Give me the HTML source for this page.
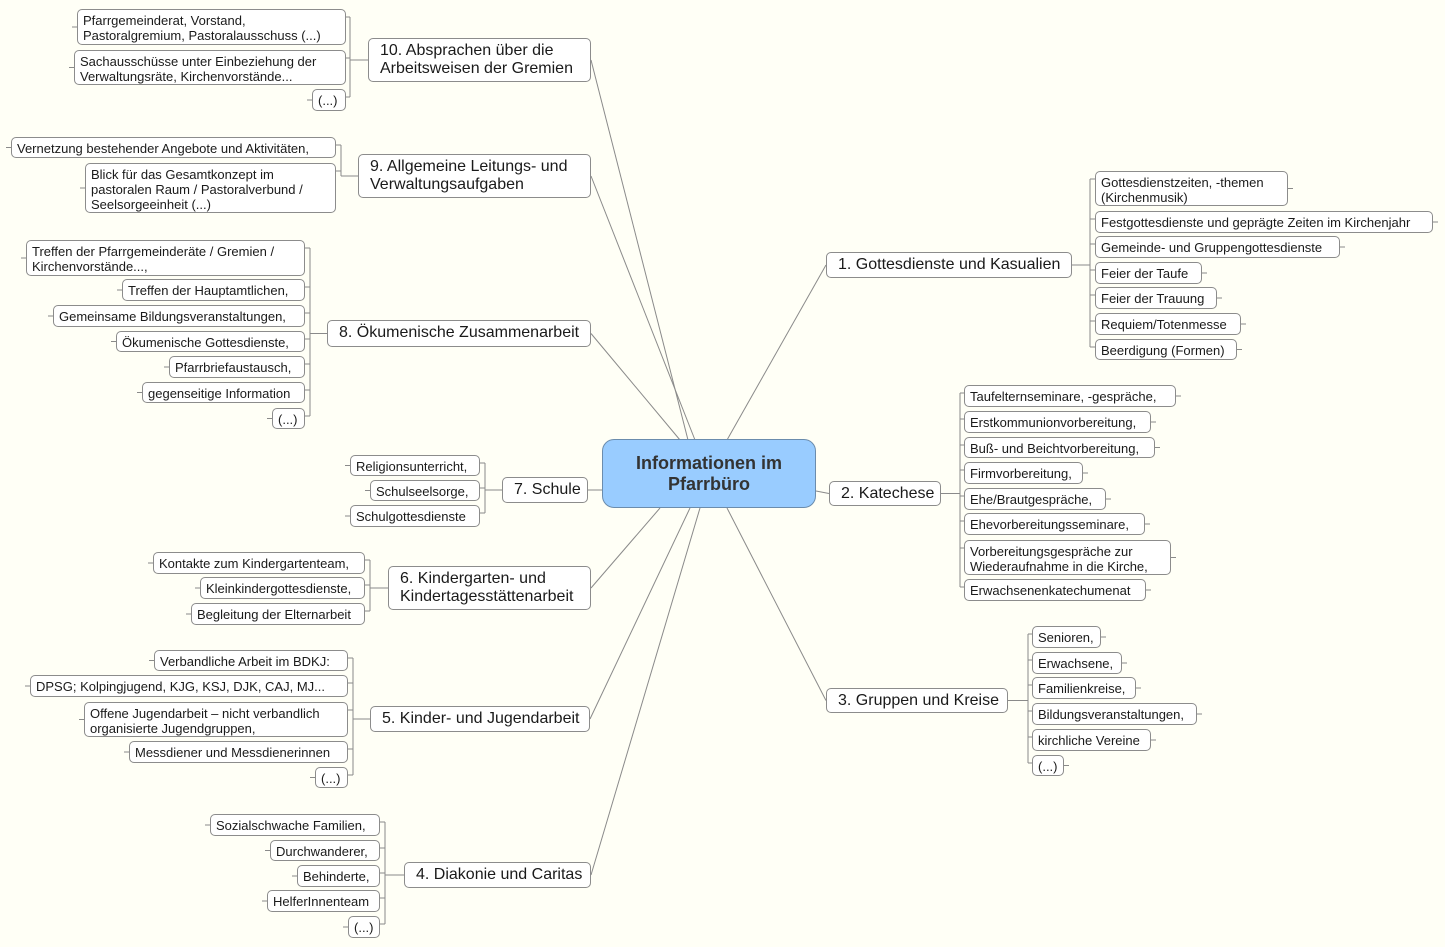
<!DOCTYPE html>
<html><head><meta charset="utf-8"><style>
html,body{margin:0;padding:0}
body{width:1445px;height:947px;background:#fffff6;position:relative;overflow:hidden;font-family:"Liberation Sans",sans-serif;color:#1a1a1a}
.b{position:absolute;box-sizing:border-box;background:#fff;border:1px solid #8c8c8c;border-radius:5px;white-space:nowrap;line-height:15px}
.c{font-size:13px;padding:3px 5px 0 5px}
.m{font-size:16px;line-height:18px;padding:3px 0 0 11px}
#ctr{position:absolute;left:602px;top:439px;width:214px;height:69px;box-sizing:border-box;background:#99ccff;border:1px solid #6b8cad;border-radius:12px;font-weight:bold;font-size:18px;line-height:21px;text-align:center;padding-top:13px;color:#333}
svg{position:absolute;left:0;top:0}
</style></head><body>
<svg id="s" width="1445" height="947"></svg>
<div id="ctr">Informationen im<br>Pfarrbüro</div>
<script>
var S=document.getElementById('s'),ns='http://www.w3.org/2000/svg';
function ln(x1,y1,x2,y2){var l=document.createElementNS(ns,'line');l.setAttribute('x1',x1);l.setAttribute('y1',y1);l.setAttribute('x2',x2);l.setAttribute('y2',y2);l.setAttribute('stroke','#8a8a8a');l.setAttribute('stroke-width','1');S.appendChild(l);}
function box(cls,x1,y1,x2,y2,t){var d=document.createElement('div');d.className='b '+cls;d.style.left=x1+'px';d.style.top=y1+'px';d.style.width=(x2-x1)+'px';d.style.height=(y2-y1)+'px';d.innerHTML=t;document.body.appendChild(d);}
// branches: [x1,y1,x2,y2,text,side,bracketX, children[[x1,y1,x2,y2,text]], centerAnchor]
var B=[
[826,252,1072,278,'1. Gottesdienste und Kasualien','R',1090,[[1095,171,1288,206,'Gottesdienstzeiten, -themen<br>(Kirchenmusik)'],[1095,211,1433,233,'Festgottesdienste und geprägte Zeiten im Kirchenjahr'],[1095,236,1340,258,'Gemeinde- und Gruppengottesdienste'],[1095,262,1202,284,'Feier der Taufe'],[1095,287,1217,309,'Feier der Trauung'],[1095,313,1241,335,'Requiem/Totenmesse'],[1095,339,1237,360,'Beerdigung (Formen)']],[727,440]],
[829,481,941,506,'2. Katechese','R',960,[[964,385,1176,407,'Taufelternseminare, -gespräche,'],[964,411,1151,433,'Erstkommunionvorbereitung,'],[964,437,1155,458,'Buß- und Beichtvorbereitung,'],[964,462,1083,484,'Firmvorbereitung,'],[964,488,1106,510,'Ehe/Brautgespräche,'],[964,513,1145,535,'Ehevorbereitungsseminare,'],[964,540,1171,575,'Vorbereitungsgespräche zur<br>Wiederaufnahme in die Kirche,'],[964,579,1146,601,'Erwachsenenkatechumenat']],[816,491]],
[826,688,1008,713,'3. Gruppen und Kreise','R',1028,[[1032,626,1101,648,'Senioren,'],[1032,652,1122,674,'Erwachsene,'],[1032,677,1136,699,'Familienkreise,'],[1032,703,1197,725,'Bildungsveranstaltungen,'],[1032,729,1151,751,'kirchliche Vereine'],[1032,755,1064,776,'(...)']],[727,508]],
[404,862,591,888,'4. Diakonie und Caritas','L',385,[[210,814,380,836,'Sozialschwache Familien,'],[270,840,380,861,'Durchwanderer,'],[297,865,380,887,'Behinderte,'],[267,890,380,912,'HelferInnenteam'],[348,916,380,938,'(...)']],[700,508]],
[370,706,590,732,'5. Kinder- und Jugendarbeit','L',353,[[154,650,348,671,'Verbandliche Arbeit im BDKJ:'],[30,675,348,697,'DPSG; Kolpingjugend, KJG, KSJ, DJK, CAJ, MJ...'],[84,702,348,737,'Offene Jugendarbeit – nicht verbandlich<br>organisierte Jugendgruppen,'],[129,741,348,763,'Messdiener und Messdienerinnen'],[315,767,348,788,'(...)']],[690,508]],
[388,566,591,610,'6. Kindergarten- und<br>Kindertagesstättenarbeit','L',370,[[153,552,365,574,'Kontakte zum Kindergartenteam,'],[200,577,365,599,'Kleinkindergottesdienste,'],[191,603,365,625,'Begleitung der Elternarbeit']],[660,508]],
[502,477,588,503,'7. Schule','L',485,[[350,455,480,476,'Religionsunterricht,'],[370,480,480,501,'Schulseelsorge,'],[350,505,480,527,'Schulgottesdienste']],[602,490]],
[327,320,591,347,'8. Ökumenische Zusammenarbeit','L',310,[[26,240,305,276,'Treffen der Pfarrgemeinderäte / Gremien /<br>Kirchenvorstände...,'],[122,279,305,301,'Treffen der Hauptamtlichen,'],[53,305,305,327,'Gemeinsame Bildungsveranstaltungen,'],[116,331,305,352,'Ökumenische Gottesdienste,'],[169,356,305,378,'Pfarrbriefaustausch,'],[142,382,305,403,'gegenseitige Information'],[272,408,305,429,'(...)']],[680,440]],
[358,154,591,198,'9. Allgemeine Leitungs- und<br>Verwaltungsaufgaben','L',341,[[11,137,336,158,'Vernetzung bestehender Angebote und Aktivitäten,'],[85,163,336,213,'Blick für das Gesamtkonzept im<br>pastoralen Raum / Pastoralverbund /<br>Seelsorgeeinheit (...)']],[695,440]],
[368,38,591,82,'10. Absprachen über die<br>Arbeitsweisen der Gremien','L',350,[[77,9,346,45,'Pfarrgemeinderat, Vorstand,<br>Pastoralgremium, Pastoralausschuss (...)'],[74,50,346,85,'Sachausschüsse unter Einbeziehung der<br>Verwaltungsräte, Kirchenvorstände...'],[312,89,346,111,'(...)']],[688,440]]
];
B.forEach(function(b){
 var my=(b[1]+b[3])/2, R=b[5]=='R';
 var ex=R?b[0]:b[2];
 ln(b[8][0],b[8][1],ex,my);
 var ox=R?b[2]:b[0], bx=b[6];
 ln(ox,my,bx,my);
 var ys=b[7].map(function(c){return c[1]+8;});
 ln(bx,Math.min.apply(null,ys.concat([my])),bx,Math.max.apply(null,ys.concat([my])));
 b[7].forEach(function(c){
  var y=c[1]+8;
  if(R){ln(bx,y,c[0],y);ln(c[2],(c[1]+c[3])/2,c[2]+5,(c[1]+c[3])/2);}
  else{ln(c[2],y,bx,y);ln(c[0]-5,(c[1]+c[3])/2,c[0],(c[1]+c[3])/2);}
  box('c',c[0],c[1],c[2],c[3],c[4]);
 });
 box('m',b[0],b[1],b[2],b[3],b[4]);
});
</script>
</body></html>
